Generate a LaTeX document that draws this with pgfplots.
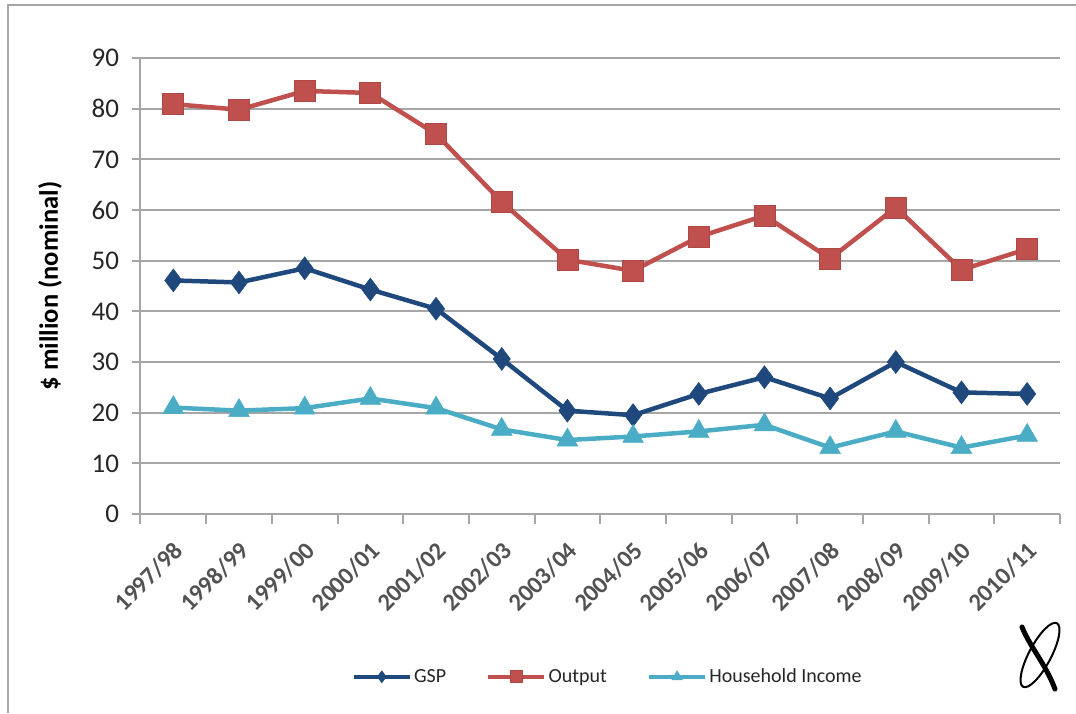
\documentclass[border=0pt]{standalone}
\usepackage{fontspec}
\setmainfont{Carlito}
\usepackage{pgfplots}
\pgfplotsset{compat=1.18}
\definecolor{gspc}{HTML}{1F497D}
\definecolor{outc}{HTML}{C0504D}
\definecolor{hhc}{HTML}{4BACC6}
\definecolor{gridc}{HTML}{A6A6A6}
\definecolor{txtc}{HTML}{262626}
\begin{document}
\begin{tikzpicture}[x=1pt,y=1pt]
\useasboundingbox (0,0) rectangle (1076,713);
\draw[gridc, line width=2pt] (8,0) -- (8,708) -- (1076,708);
\begin{axis}[
  at={(140.5pt,199pt)}, anchor=south west,
  scale only axis, width=919.5pt, height=456pt,
  xmin=-0.5, xmax=13.5, ymin=0, ymax=90,
  ytick={0,10,...,90},
  xtick={0,...,13},
  xticklabels={1997/98,1998/99,1999/00,2000/01,2001/02,2002/03,2003/04,2004/05,2005/06,2006/07,2007/08,2008/09,2009/10,2010/11},
  axis x line*=bottom, axis y line*=left,
  axis line style={draw=gridc, line width=2pt, -},
  tick align=outside, major tick length=9pt,
  ytick style={draw=gridc, line width=2pt},
  xtick style={draw=none},
  extra x ticks={-0.5,0.5,...,13.5},
  extra x tick labels={},
  extra x tick style={grid=none, major tick length=10pt, xtick style={draw=gridc, line width=2pt}},
  ymajorgrids, grid style={draw=gridc, line width=2pt},
  /pgf/number format/assume math mode=true,
  yticklabel style={font=\fontsize{27}{27}\selectfont, text=txtc, xshift=-9pt},
  xticklabel style={font=\bfseries\fontsize{24.5}{24.5}\selectfont, text=black!68, inner sep=0pt, xshift=-1pt, yshift=-17pt, rotate=45, anchor=north east},
  ylabel={\$ million (nominal)},
  ylabel style={font=\bfseries\fontsize{26.5}{26.5}\selectfont, at={(axis description cs:-0.0984,0.5)}, anchor=center},
  legend columns=3,
  legend style={at={(axis description cs:0.508,-0.357)}, anchor=center, draw=none, font=\fontsize{20}{20}\selectfont, text=txtc,
    /tikz/every even column/.append style={column sep=38pt}, inner sep=0pt},
  legend image code/.code={\draw[mark repeat=2,mark phase=2,#1,mark size=6pt] plot coordinates {(0pt,0pt) (28pt,0pt) (56pt,0pt)};},
]
\addplot[color=gspc, line width=4.5pt, mark=diamond*, mark size=11.5pt, mark options={line width=0.5pt, fill=gspc}]
coordinates {(0,46.1)(1,45.7)(2,48.5)(3,44.3)(4,40.5)(5,30.6)(6,20.4)(7,19.5)(8,23.7)(9,27.0)(10,22.8)(11,30.0)(12,24.0)(13,23.7)};
\addlegendentry{GSP}
\addplot[color=outc, line width=4.5pt, mark=square*, mark size=10.5pt, mark options={line width=0.8pt, fill=outc, draw=outc!90!black}]
coordinates {(0,80.9)(1,79.8)(2,83.5)(3,83.1)(4,75.0)(5,61.6)(6,50.2)(7,48.0)(8,54.7)(9,58.9)(10,50.4)(11,60.5)(12,48.2)(13,52.3)};
\addlegendentry{Output}
\addplot[color=hhc, line width=4.5pt, mark=triangle*, mark size=12pt, mark options={line width=0.5pt, fill=hhc}]
coordinates {(0,21.0)(1,20.4)(2,20.9)(3,22.8)(4,20.9)(5,16.7)(6,14.6)(7,15.3)(8,16.3)(9,17.6)(10,13.1)(11,16.3)(12,13.1)(13,15.5)};
\addlegendentry{Household Income}
\end{axis}
% decorative logo
\draw[line width=2pt, rotate around={62:(1040,58)}] (1040,58) ellipse (36 and 11);
\draw[line width=5pt, line cap=round] (1022,86) .. controls (1030,66) and (1045,50) .. (1055,24);
\end{tikzpicture}
\end{document}
